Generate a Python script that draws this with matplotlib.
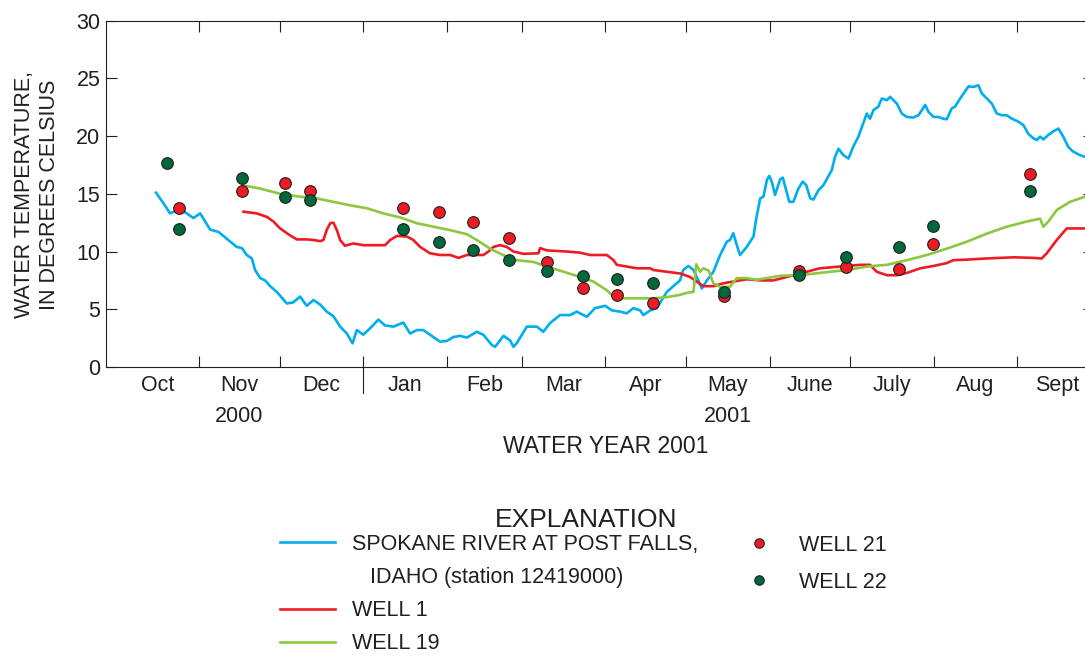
import matplotlib.pyplot as plt
from matplotlib.lines import Line2D
import numpy as np

plt.rcParams['font.family'] = ['Liberation Sans', 'DejaVu Sans']

# days counted from Oct 1, 2000 (start of water year 2001), temperatures in deg C
river_day = [15.0, 17.7, 20.2, 23.9, 26.4, 28.9, 31.4, 35.1, 38.2, 41.3, 45.0, 46.9, 48.7, 50.6,
             51.8, 53.7, 55.5, 57.4, 59.9, 63.6, 66.0, 68.5, 71.0, 73.5, 76.0, 78.4, 80.9, 83.4,
             85.9, 88.0, 89.6, 92.0, 94.5, 97.6, 100.1, 103.2, 106.9, 109.4, 111.9, 114.3, 116.8,
             120.5, 123.0, 125.5, 128.0, 130.5, 134.2, 136.6, 139.8, 141.0, 142.8, 144.1, 146.6,
             147.8, 149.0, 152.8, 156.5, 158.9, 161.4, 165.1, 168.9, 171.3, 175.1, 178.1, 181.9,
             184.4, 187.4, 189.9, 192.4, 194.9, 196.1, 198.6, 201.1, 202.9, 204.8, 207.2, 209.7,
             210.9, 212.8, 214.7, 216.5, 217.8, 219.7, 222.1, 224.6, 227.1, 228.3, 229.5, 230.8,
             232.0, 234.5, 237.0, 238.0, 239.5, 240.7, 242.0, 242.9, 243.8, 245.0, 246.9, 247.9,
             248.8, 250.3, 251.8, 253.7, 255.3, 256.6, 258.1, 259.3, 261.1, 263.0, 266.1, 267.3,
             268.6, 270.4, 272.3, 274.1, 276.0, 277.8, 279.1, 280.3, 281.6, 283.4, 284.7, 286.6,
             287.8, 289.0, 290.3, 292.1, 294.0, 296.4, 298.3, 299.6, 300.8, 302.0, 303.9, 305.7,
             307.6, 308.8, 310.7, 311.9, 313.8, 315.6, 316.9, 318.7, 320.6, 321.8, 323.7, 325.6,
             327.4, 329.3, 331.1, 333.0, 335.4, 337.3, 339.1, 341.0, 342.3, 343.5, 344.7, 346.6,
             348.4, 350.3, 352.1, 354.0, 355.8, 358.3, 360.2, 365.0]
river_temp = [15.1, 14.2, 13.3, 13.7, 13.3, 12.9, 13.3, 11.9, 11.7, 11.1, 10.4, 10.3, 9.7, 9.4,
              8.4, 7.7, 7.5, 7.0, 6.5, 5.5, 5.6, 6.1, 5.3, 5.8, 5.4, 4.8, 4.4, 3.5,
              2.9, 2.05, 3.2, 2.8, 3.35, 4.1, 3.6, 3.5, 3.85, 2.9, 3.2, 3.2, 2.8,
              2.2, 2.25, 2.6, 2.7, 2.55, 3.05, 2.8, 1.9, 1.75, 2.3, 2.7, 2.3,
              1.75, 2.05, 3.5, 3.5, 3.05, 3.8, 4.5, 4.5, 4.8, 4.35, 5.1, 5.3,
              4.9, 4.8, 4.65, 5.1, 4.9, 4.5, 4.9, 5.1, 5.8, 6.5, 7.0, 7.5,
              8.4, 8.75, 8.4, 7.5, 6.8, 7.5, 8.25, 9.7, 10.85, 11.0, 11.6, 10.55,
              9.7, 10.4, 11.3, 12.8, 14.6, 14.75, 16.2, 16.55, 16.05, 14.9, 16.25, 16.4,
              15.6, 14.3, 14.3, 15.45, 16.05, 15.75, 14.6, 14.5, 15.3, 15.75, 17.05, 18.2,
              18.9, 18.35, 18.05, 19.1, 19.95, 21.1, 21.95, 21.5, 22.25, 22.55, 23.25, 23.1,
              23.4, 23.1, 22.8, 21.95, 21.65, 21.6, 21.8, 22.25, 22.7, 22.1, 21.65, 21.65,
              21.5, 21.45, 22.4, 22.55, 23.25, 23.85, 24.3, 24.25, 24.4, 23.7, 23.25, 22.8,
              21.95, 21.8, 21.8, 21.5, 21.25, 20.95, 20.2, 19.8, 19.65, 19.95, 19.7, 20.1,
              20.4, 20.65, 19.95, 19.05, 18.65, 18.35, 18.2, 18.0]

well1_day = [47.5, 52.4, 56.2, 58.6, 61.1, 64.8, 67.3, 71.0, 73.5, 76.0, 77.2, 78.4, 79.7, 80.9,
             82.2, 83.4, 85.2, 88.3, 92.0, 97.0, 100.1, 102.0, 104.5, 108.2, 110.6, 113.1, 116.8,
             120.5, 124.3, 127.4, 130.5, 136.6, 138.5, 140.4, 142.8, 145.3, 147.8, 151.5, 157.1,
             157.7, 160.2, 167.6, 172.6, 176.3, 182.5, 185.0, 186.2, 189.9, 193.6, 198.6, 199.8,
             204.8, 209.7, 213.4, 215.9, 218.4, 222.1, 225.8, 229.5, 234.5, 239.5, 244.4, 249.4,
             254.3, 261.7, 269.2, 276.6, 280.3, 282.8, 286.6, 290.3, 294.0, 299.0, 303.9, 308.8,
             311.3, 316.3, 323.7, 333.6, 341.0, 344.1, 346.0, 349.7, 353.4, 365.0]
well1_temp = [13.45, 13.3, 13.0, 12.6, 12.0, 11.4, 11.05, 11.05, 11.0, 10.9, 11.0, 11.85, 12.45, 12.5,
              11.85, 11.0, 10.5, 10.7, 10.55, 10.55, 10.55, 11.0, 11.35, 11.3, 11.0, 10.4, 9.85,
              9.7, 9.7, 9.45, 9.7, 9.7, 10.0, 10.4, 10.55, 10.4, 10.0, 9.8, 9.85,
              10.3, 10.1, 10.0, 9.9, 9.7, 9.7, 9.25, 8.85, 8.7, 8.55, 8.55, 8.4,
              8.25, 8.1, 7.8, 7.4, 7.0, 7.0, 7.25, 7.4, 7.6, 7.5, 7.5, 7.8,
              8.1, 8.55, 8.7, 8.85, 8.85, 8.25, 7.95, 7.95, 8.15, 8.55, 8.75, 9.0,
              9.25, 9.3, 9.4, 9.5, 9.45, 9.4, 9.85, 11.0, 12.0, 12.0]

well19_day = [46.9, 53.7, 61.1, 68.5, 74.7, 80.9, 88.3, 93.3, 99.5, 105.7, 111.9, 118.1, 124.3,
              130.5, 134.2, 139.1, 145.3, 149.0, 155.2, 160.2, 166.4, 172.6, 177.5, 182.5, 185.0,
              188.7, 194.9, 199.8, 204.8, 209.7, 212.8, 214.7, 215.7, 217.2, 218.4, 220.3, 222.1,
              224.6, 228.3, 230.8, 234.5, 238.2, 243.2, 246.9, 254.3, 261.7, 271.7, 279.1, 286.6,
              294.0, 301.4, 308.8, 316.3, 323.7, 331.1, 338.6, 343.5, 344.7, 346.6, 349.7, 354.6,
              360.2, 365.0]
well19_temp = [15.75, 15.45, 15.0, 14.75, 14.6, 14.3, 13.95, 13.75, 13.3, 12.95, 12.45, 12.15, 11.85,
               11.5, 11.0, 10.25, 9.55, 9.25, 9.1, 8.7, 8.25, 7.8, 7.4, 6.65, 6.1,
               5.95, 5.95, 5.95, 6.05, 6.25, 6.45, 6.5, 8.9, 8.25, 8.55, 8.35, 7.25,
               6.95, 6.95, 7.7, 7.7, 7.55, 7.75, 7.9, 7.95, 8.15, 8.4, 8.7, 8.85,
               9.25, 9.7, 10.25, 10.85, 11.55, 12.15, 12.6, 12.85, 12.15, 12.6, 13.6, 14.3,
               14.75, 15.0]

well21_day = [23.7, 46.9, 63.0, 72.2, 106.7, 120.2, 132.6, 146.2, 160.4, 173.8, 186.2, 199.5,
              226.2, 254.0, 271.2, 291.1, 303.6, 339.8]
well21_temp = [13.8, 15.25, 15.95, 15.2, 13.8, 13.4, 12.6, 11.2, 9.1, 6.8, 6.2, 5.55,
               6.15, 8.35, 8.7, 8.5, 10.65, 16.75]

well22_day = [19.2, 23.7, 46.9, 63.0, 72.2, 106.7, 120.2, 132.6, 146.2, 160.4, 173.8, 186.2,
              199.5, 226.2, 254.0, 271.2, 291.1, 303.6, 339.8]
well22_temp = [17.7, 11.95, 16.4, 14.75, 14.45, 11.95, 10.85, 10.1, 9.25, 8.35, 7.9, 7.6,
               7.25, 6.5, 7.95, 9.5, 10.4, 12.25, 15.2]

month_names = ["Oct", "Nov", "Dec", "Jan", "Feb", "Mar", "Apr", "May", "June", "July", "Aug", "Sept"]
month_days = [31, 30, 31, 31, 28, 31, 30, 31, 30, 31, 31, 30]

blue = "#00AEEF"
red = "#ED1C24"
lgreen = "#8DC63F"
dgreen = "#00683A"
dark = "#231F20"

month_start = np.concatenate([[0], np.cumsum(month_days)[:-1]])
month_mid = month_start + np.array(month_days) / 2

fig = plt.figure(figsize=(10.85, 6.56), dpi=100)
ax = fig.add_axes([0.0977, 0.4405, 0.9105, 0.5282])

ax.plot(river_day, river_temp, color=blue, lw=1.9)
ax.plot(well1_day, well1_temp, color=red, lw=1.9)
ax.plot(well19_day, well19_temp, color=lgreen, lw=1.9)
ax.plot(well21_day, well21_temp, 'o', mfc=red, mec=dark, ms=8.4, mew=0.8)
ax.plot(well22_day, well22_temp, 'o', mfc=dgreen, mec=dark, ms=8.4, mew=0.8)

ax.set_xlim(-3.6, 363.5)
ax.set_ylim(0, 30)
ax.set_yticks(range(0, 31, 5))
ax.set_xticks(month_start[1:])
ax.set_xticklabels([])
ax.tick_params(direction='in', length=8, width=0.8, top=True, right=True,
               labelsize=15.5, colors=dark, pad=4)
for sp in ax.spines.values():
    sp.set_color(dark)
    sp.set_linewidth(0.8)

xt = ax.get_xaxis_transform()
for name, mid in zip(month_names, month_mid):
    ax.text(mid, -0.068, name, transform=xt, ha='center', va='baseline', fontsize=15.5, color=dark)

# calendar-year break between Dec and Jan
ax.plot([month_start[3], month_start[3]], [0, -0.075], transform=xt, clip_on=False, color=dark, lw=0.8)

ax.text(month_mid[1], -0.158, "2000", transform=xt, ha='center', va='baseline', fontsize=15.5, color=dark)
ax.text(month_mid[7], -0.158, "2001", transform=xt, ha='center', va='baseline', fontsize=15.5, color=dark)
ax.text(182, -0.249, "WATER YEAR 2001", transform=xt, ha='center', va='baseline', fontsize=16.5, color=dark)

fig.text(37 / 1085, 1 - 195 / 656, "WATER TEMPERATURE,\nIN DEGREES CELSIUS", rotation=90,
         ha='center', va='center', multialignment='center', fontsize=15.5, color=dark)

# explanation (legend)
fig.text(586 / 1085, 1 - 520 / 656, "EXPLANATION", ha='center', va='center', fontsize=19, color=dark)

left_handles = [Line2D([], [], color=blue, lw=1.9),
                Line2D([], [], color='none'),
                Line2D([], [], color=red, lw=1.9),
                Line2D([], [], color=lgreen, lw=1.9)]
left_labels = ["SPOKANE RIVER AT POST FALLS,", "   IDAHO (station 12419000)", "WELL 1", "WELL 19"]
leg1 = fig.legend(left_handles, left_labels, loc='upper left', bbox_to_anchor=(0.258, 0.186),
                  frameon=False, fontsize=15.5, handlelength=2.56, handletextpad=0.8,
                  labelspacing=0.56, borderpad=0, borderaxespad=0, labelcolor=dark)

right_handles = [Line2D([], [], ls='none', marker='o', mfc=red, mec=dark, ms=6.8, mew=0.8),
                 Line2D([], [], ls='none', marker='o', mfc=dgreen, mec=dark, ms=6.8, mew=0.8)]
right_labels = ["WELL 21", "WELL 22"]
leg2 = fig.legend(right_handles, right_labels, loc='upper left', bbox_to_anchor=(0.690, 0.185),
                  frameon=False, fontsize=15.5, handlelength=1.0, handletextpad=1.35,
                  labelspacing=0.74, borderpad=0, borderaxespad=0, labelcolor=dark)

fig.savefig("out.png", dpi=100)
